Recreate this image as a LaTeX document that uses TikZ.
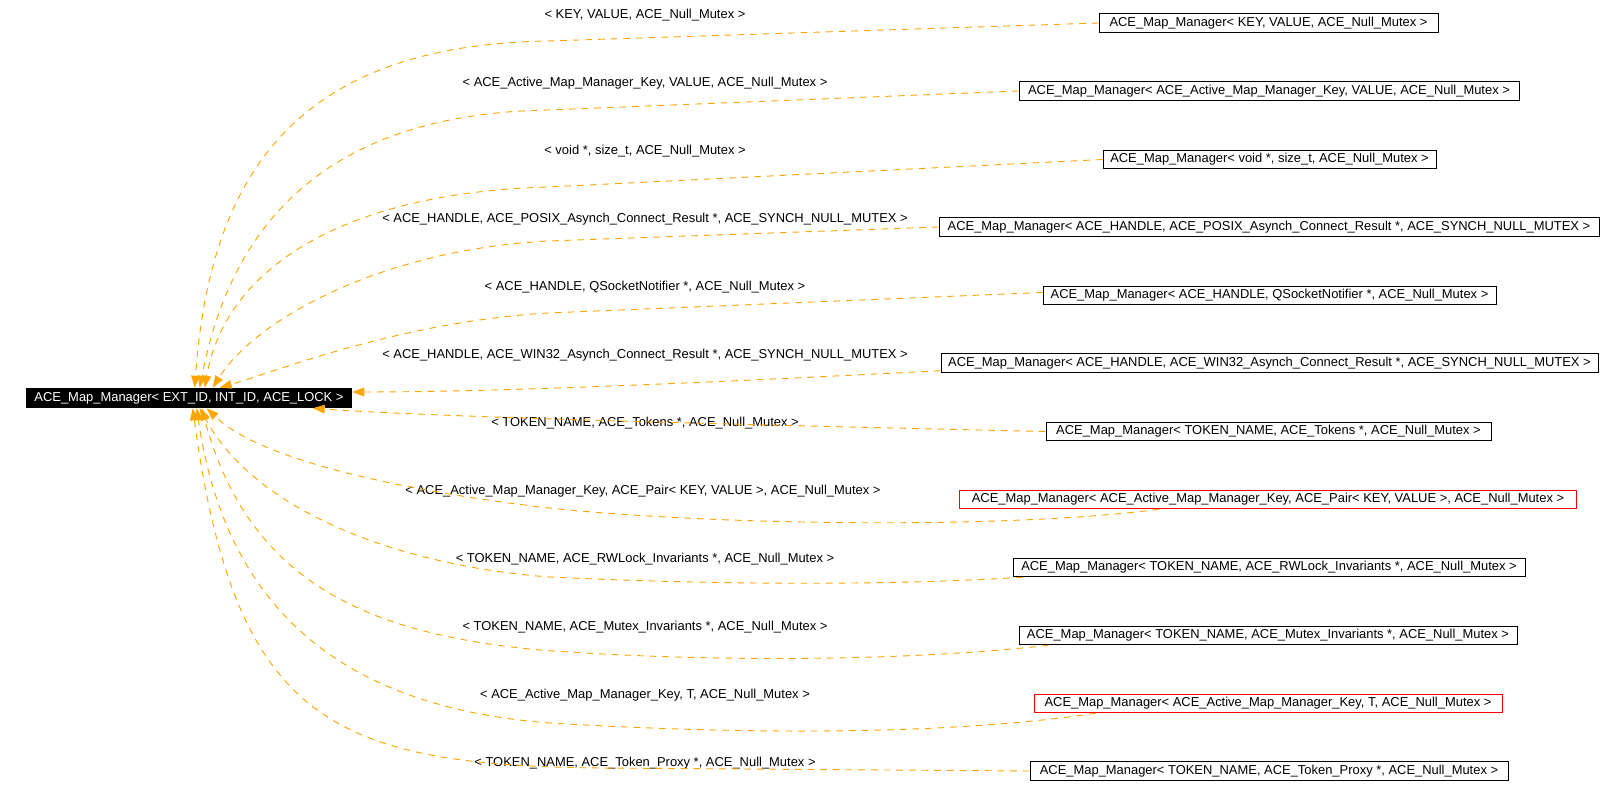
\documentclass[tikz,border=0pt]{standalone}
\usepackage{fontspec}
\setmainfont{Liberation Sans}
\usetikzlibrary{arrows.meta,calc}
\definecolor{edgeorange}{HTML}{FFA500}
\newcommand\tpl[1]{ACE\_Map\_Manager< #1 >}
\begin{document}
\begin{tikzpicture}[x=0.75pt,y=-0.75pt,
  txt/.style={font=\fontsize{9.7}{11}\selectfont},
  cls/.style={txt, draw=black, line width=0.75pt, fill=white, inner sep=0pt, minimum height=18.5*0.75pt},
  redcls/.style={cls, draw=red},
  mainbox/.style={txt, fill=black, text=white, inner sep=0pt, minimum height=20*0.75pt, minimum width=326*0.75pt},
  lbl/.style={txt, inner sep=0pt},
  inh/.style={draw=edgeorange, line width=0.7pt, dash pattern=on 5pt off 4.5pt,
    -{Triangle[length=9pt,width=6.5pt,fill=edgeorange]}}]
\useasboundingbox (0,0) rectangle (1622,798);

\node[mainbox] (m) at (189,398) {\tpl{EXT\_ID, INT\_ID, ACE\_LOCK}};

\node[cls, minimum width=339*0.75pt] (b1) at (1268.5,23) {\tpl{KEY, VALUE, ACE\_Null\_Mutex}};
\node[cls, minimum width=500*0.75pt] (b2) at (1269,91) {\tpl{ACE\_Active\_Map\_Manager\_Key, VALUE, ACE\_Null\_Mutex}};
\node[cls, minimum width=333*0.75pt] (b3) at (1269.5,159.5) {\tpl{void *, size\_t, ACE\_Null\_Mutex}};
\node[cls, minimum width=660*0.75pt] (b4) at (1269,227) {\tpl{ACE\_HANDLE, ACE\_POSIX\_Asynch\_Connect\_Result *, ACE\_SYNCH\_NULL\_MUTEX}};
\node[cls, minimum width=453*0.75pt] (b5) at (1269.5,295.5) {\tpl{ACE\_HANDLE, QSocketNotifier *, ACE\_Null\_Mutex}};
\node[cls, minimum width=657*0.75pt] (b6) at (1269.5,363) {\tpl{ACE\_HANDLE, ACE\_WIN32\_Asynch\_Connect\_Result *, ACE\_SYNCH\_NULL\_MUTEX}};
\node[cls, minimum width=445*0.75pt] (b7) at (1268.5,431.5) {\tpl{TOKEN\_NAME, ACE\_Tokens *, ACE\_Null\_Mutex}};
\node[redcls, minimum width=617*0.75pt] (b8) at (1268,499.5) {\tpl{ACE\_Active\_Map\_Manager\_Key, ACE\_Pair< KEY, VALUE >, ACE\_Null\_Mutex}};
\node[cls, minimum width=512*0.75pt] (b9) at (1269,567.5) {\tpl{TOKEN\_NAME, ACE\_RWLock\_Invariants *, ACE\_Null\_Mutex}};
\node[cls, minimum width=498*0.75pt] (b10) at (1268,635.5) {\tpl{TOKEN\_NAME, ACE\_Mutex\_Invariants *, ACE\_Null\_Mutex}};
\node[redcls, minimum width=468*0.75pt] (b11) at (1268,703.5) {\tpl{ACE\_Active\_Map\_Manager\_Key, T, ACE\_Null\_Mutex}};
\node[cls, minimum width=478*0.75pt] (b12) at (1269,771) {\tpl{TOKEN\_NAME, ACE\_Token\_Proxy *, ACE\_Null\_Mutex}};

\node[lbl] (l1) at (645,15) {< KEY, VALUE, ACE\_Null\_Mutex >};
\node[lbl] (l2) at (645,83) {< ACE\_Active\_Map\_Manager\_Key, VALUE, ACE\_Null\_Mutex >};
\node[lbl] (l3) at (645,151) {< void *, size\_t, ACE\_Null\_Mutex >};
\node[lbl] (l4) at (645,219) {< ACE\_HANDLE, ACE\_POSIX\_Asynch\_Connect\_Result *, ACE\_SYNCH\_NULL\_MUTEX >};
\node[lbl] (l5) at (645,287) {< ACE\_HANDLE, QSocketNotifier *, ACE\_Null\_Mutex >};
\node[lbl] (l6) at (645,355) {< ACE\_HANDLE, ACE\_WIN32\_Asynch\_Connect\_Result *, ACE\_SYNCH\_NULL\_MUTEX >};
\node[lbl] (l7) at (645,423) {< TOKEN\_NAME, ACE\_Tokens *, ACE\_Null\_Mutex >};
\node[lbl] (l8) at (643,491) {< ACE\_Active\_Map\_Manager\_Key, ACE\_Pair< KEY, VALUE >, ACE\_Null\_Mutex >};
\node[lbl] (l9) at (645,559) {< TOKEN\_NAME, ACE\_RWLock\_Invariants *, ACE\_Null\_Mutex >};
\node[lbl] (l10) at (645,627) {< TOKEN\_NAME, ACE\_Mutex\_Invariants *, ACE\_Null\_Mutex >};
\node[lbl] (l11) at (645,695) {< ACE\_Active\_Map\_Manager\_Key, T, ACE\_Null\_Mutex >};
\node[lbl] (l12) at (645,763) {< TOKEN\_NAME, ACE\_Token\_Proxy *, ACE\_Null\_Mutex >};

% edges to the top of the main node
\draw[inh] (b1.west) -- (548,41) .. controls (300,45) and (210,170) .. ($(m.north west)+(169,0)$);
\draw[inh] (b2.west) -- (548,110) .. controls (320,114) and (230,230) .. ($(m.north west)+(174,0)$);
\draw[inh] (b3.west) -- (548,187) .. controls (340,193) and (225,270) .. ($(m.north west)+(179,0)$);
\draw[inh] (b4.west) -- (548,241) .. controls (380,250) and (255,320) .. ($(m.north west)+(187,0)$);
\draw[inh] ($(b5.west)+(0,-3)$) -- (548,313) .. controls (400,322) and (280,370) .. ($(m.north west)+(194,0)$);
% edge to the right end
\draw[inh] ($(b6.south west)+(0,-2)$) .. controls (700,383) and (500,392) .. ($(m.east)+(0,-6)$);
% edges to the bottom of the main node
\draw[inh] (b7.west) .. controls (800,426) and (450,418) .. ($(m.south west)+(287,0)$);
\draw[inh] ($(b8.south west)+(200,0)$) .. controls (1000,530) and (700,525) .. (540,507)
  .. controls (400,490) and (260,460) .. ($(m.south west)+(181,0)$);
\draw[inh] ($(b9.south west)+(10,0)$) .. controls (850,588) and (650,582) .. (550,577)
  .. controls (420,568) and (260,520) .. ($(m.south west)+(174,0)$);
\draw[inh] ($(b10.south west)+(30,0)$) .. controls (900,662) and (700,662) .. (540,650)
  .. controls (380,635) and (250,590) .. ($(m.south west)+(176,0)$);
\draw[inh] ($(b11.south west)+(62,0)$) .. controls (950,735) and (750,735) .. (550,723)
  .. controls (380,710) and (230,640) .. ($(m.south west)+(171,0)$);
\draw[inh] (b12.west) -- (600,768) .. controls (330,765) and (235,720) .. ($(m.south west)+(167,0)$);
\end{tikzpicture}
\end{document}
